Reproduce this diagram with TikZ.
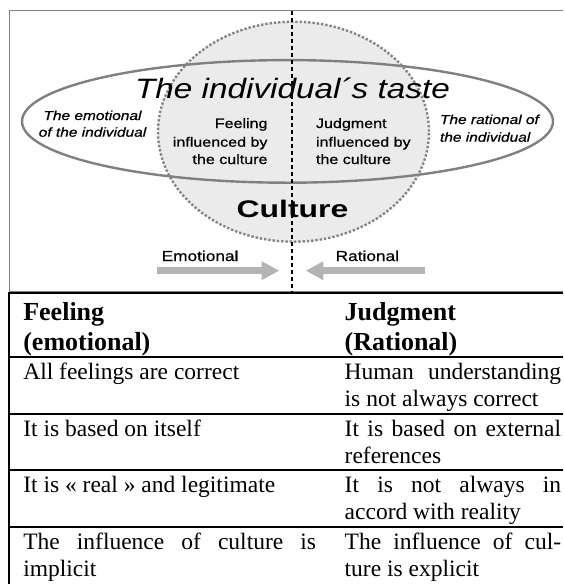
\documentclass[tikz,border=0pt]{standalone}
\usepackage{fontspec}
\setmainfont{Liberation Serif}
\newfontfamily\arialf{Liberation Sans}
\newfontfamily\arialh[FakeBold=0.6]{Liberation Sans}
\usepackage{graphicx}
\usetikzlibrary{arrows.meta}
\definecolor{framegray}{HTML}{808080}
\definecolor{circfill}{HTML}{EBEBEB}
\definecolor{circline}{HTML}{858585}
\definecolor{ellline}{HTML}{808080}
\definecolor{arrowgray}{HTML}{B4B4B4}
\newcommand\sx[2][1.19]{\scalebox{#1}[1]{#2}}
\newcommand\jst[2]{\makebox[#1][s]{#2}}
\begin{document}
\begin{tikzpicture}[x=1pt,y=-1pt,
  lbl/.style={inner sep=0pt, outer sep=0pt},
  tab/.style={lbl, font=\fontsize{23.5pt}{27pt}\selectfont, anchor=base west},
  tabhead/.style={lbl, font=\fontsize{26pt}{29pt}\selectfont\bfseries, anchor=base west},
  dsmall/.style={lbl, font=\arialh\itshape\fontsize{13pt}{16pt}\selectfont},
  dmid/.style={lbl, font=\arialh\fontsize{13.5pt}{17pt}\selectfont},
  dlow/.style={lbl, font=\arialh\fontsize{14.5pt}{16pt}\selectfont, anchor=base west},
  rulel/.style={line width=2.2pt, black},
  bigarrow/.style={draw=arrowgray, line width=6.7pt, -{Triangle[length=17.6pt,width=17.6pt]}}
]
\useasboundingbox (0,0) rectangle (563,584);
\fill[white] (0,0) rectangle (563,584);
% frame of the diagram
\coordinate (fTL) at (9.5,10.5);
\coordinate (fTR) at (563,10.5);
\coordinate (fBL) at (9.5,291.5);
\coordinate (fBR) at (563,291.5);
\draw[framegray, line width=1.2pt] (fTR) -- (fTL) -- (fBL) -- (fBR);
% culture circle
\fill[circfill] (293.5,131.7) ellipse [x radius=135.5pt, y radius=110pt];
% individual ellipse
\draw[ellline, line width=2.4pt] (287.5,121.4) ellipse [x radius=265.5pt, y radius=61.3pt];
\draw[circline, line width=2.4pt, dash pattern=on 2.4pt off 1.9pt] (293.5,131.7) ellipse [x radius=135.5pt, y radius=110pt];
% arrows
\coordinate (la0) at (157.3,270.7);
\coordinate (la1) at (279.3,270.7);
\coordinate (ra0) at (425,270.7);
\coordinate (ra1) at (305.7,270.7);
\draw[bigarrow] (la0) -- (la1);
\draw[bigarrow] (ra0) -- (ra1);
% texts of the diagram
\node[lbl, font=\arialf\itshape\fontsize{28pt}{30pt}\selectfont, anchor=base] (title) at (292.5,98.3) {\sx{The individual´s taste}};
\node[dsmall, anchor=base] (emo1) at (92.5,120) {\sx{The emotional}};
\node[dsmall, anchor=base] (emo2) at (92.5,136.7) {\sx{of the individual}};
\node[dsmall, anchor=base west] (rat1) at (440,124) {\sx{The rational of}};
\node[dsmall, anchor=base west] (rat2) at (440,141.7) {\sx{the individual}};
\node[dmid, anchor=base east] (f1) at (267.5,128) {\sx{Feeling}};
\node[dmid, anchor=base east] (f2) at (267.5,146.7) {\sx{influenced by}};
\node[dmid, anchor=base east] (f3) at (267.5,164) {\sx{the culture}};
\node[dmid, anchor=base west] (j1) at (316,128) {\sx{Judgment}};
\node[dmid, anchor=base west] (j2) at (316,146.7) {\sx{influenced by}};
\node[dmid, anchor=base west] (j3) at (316,164) {\sx{the culture}};
\node[lbl, font=\arialf\bfseries\fontsize{24pt}{26pt}\selectfont, anchor=base] (cult) at (292.5,217) {\sx[1.33]{Culture}};
\node[dlow] (emot) at (161.7,261) {\sx{Emotional}};
\node[dlow] (ratl) at (335.7,261) {\sx{Rational}};
% dashed divider
\coordinate (dtop) at (292,10.5);
\coordinate (dbot) at (292,293);
\draw[black, line width=1.8pt, dash pattern=on 4.5pt off 2.5pt] (dtop) -- (dbot);
% table rules
\coordinate (t0l) at (9,293.3); \coordinate (t0r) at (563,293.3);
\coordinate (t1l) at (9,357); \coordinate (t1r) at (563,357);
\coordinate (t2l) at (9,414); \coordinate (t2r) at (563,414);
\coordinate (t3l) at (9,470); \coordinate (t3r) at (563,470);
\coordinate (t4l) at (9,527); \coordinate (t4r) at (563,527);
\coordinate (tbt) at (9,292.3);
\coordinate (tbl) at (9,584);
\draw[rulel] (t0l) -- (t0r);
\draw[rulel] (t1l) -- (t1r);
\draw[rulel] (t2l) -- (t2r);
\draw[rulel] (t3l) -- (t3r);
\draw[rulel] (t4l) -- (t4r);
\draw[rulel] (tbt) -- (tbl);
% table header
\node[tabhead] (hl1) at (23.3,320.7) {Feeling};
\node[tabhead] (hl2) at (23.3,350) {(emotional)};
\node[tabhead] (hr1) at (344.7,320.7) {Judgment};
\node[tabhead] (hr2) at (344.7,350) {(Rational)};
% row 1
\node[tab] (a1) at (23.3,379.3) {All feelings are correct};
\node[tab] (b1) at (344.7,379.3) {\jst{216.5pt}{Human understanding}};
\node[tab] (b1b) at (344.7,406.7) {is not always correct};
% row 2
\node[tab] (a2) at (23.3,436) {It is based on itself};
\node[tab] (b2) at (344.7,436) {\jst{216.5pt}{It is based on external}};
\node[tab] (b2b) at (344.7,463.3) {references};
% row 3
\node[tab] (a3) at (23.3,492.7) {It is « real » and legitimate};
\node[tab] (b3) at (344.7,492.7) {\jst{216.5pt}{It is not always in}};
\node[tab] (b3b) at (344.7,519.3) {accord with reality};
% row 4
\node[tab] (a4) at (23.3,549.3) {\jst{292.7pt}{The influence of culture is}};
\node[tab] (a4b) at (23.3,576) {implicit};
\node[tab] (b4) at (344.7,549.3) {\jst{216.5pt}{The influence of cul-}};
\node[tab] (b4b) at (344.7,576) {ture is explicit};
\end{tikzpicture}
\end{document}
